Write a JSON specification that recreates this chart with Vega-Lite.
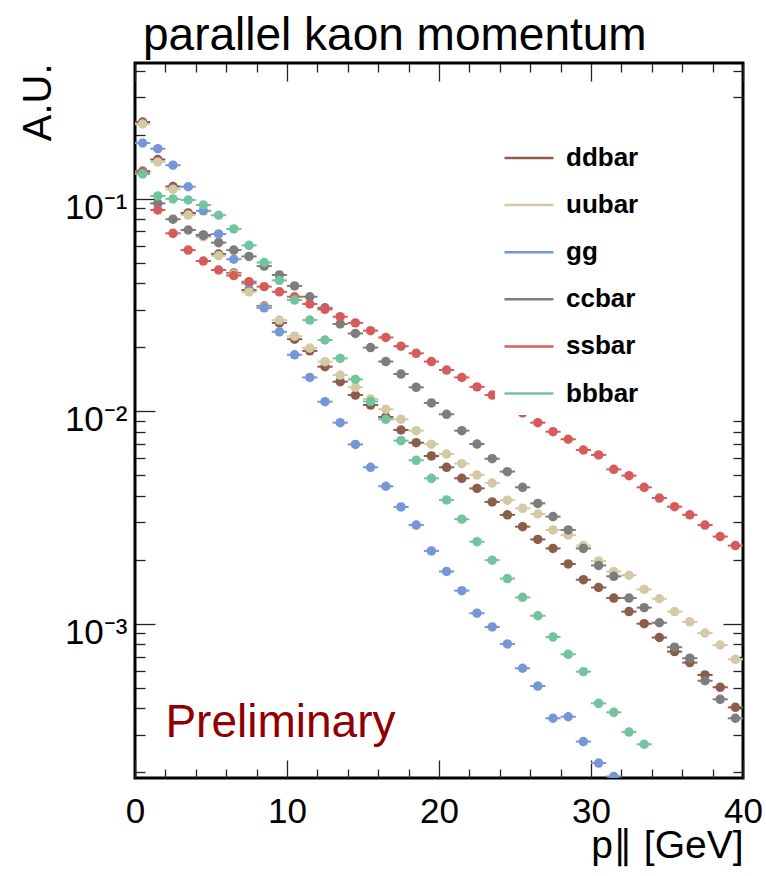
{
"$schema": "https://vega.github.io/schema/vega-lite/v6.json",
"width": 608, "height": 715,
"autosize": {"type": "none"},
"padding": {"left": 135, "top": 63, "right": 23, "bottom": 98},
"background": "white",
"config": {
  "view": {"stroke": "black", "strokeWidth": 3},
  "font": "Liberation Sans",
  "axis": {"grid": false, "domain": false, "tickColor": "#222222", "tickWidth": 1.3, "labelFont": "Liberation Sans", "titleFont": "Liberation Sans", "labelColor": "black", "titleColor": "black", "titleFontWeight": "normal", "labelOverlap": false, "labelFlush": false, "labelBound": false, "zindex": 1}
},
"title": {"text": "parallel kaon momentum", "anchor": "start", "frame": "group", "offset": 13, "dy": 47, "baseline": "alphabetic", "dx": 8, "fontSize": 46, "font": "Liberation Sans", "fontWeight": "normal", "color": "black"},
"data": {"values": [
{"s":"ddbar","lo":0,"hi":1,"c":0.5,"v":0.229},{"s":"ddbar","lo":1,"hi":2,"c":1.5,"v":0.1526},{"s":"ddbar","lo":2,"hi":3,"c":2.5,"v":0.1139},{"s":"ddbar","lo":3,"hi":4,"c":3.5,"v":0.0855},{"s":"ddbar","lo":4,"hi":5,"c":4.5,"v":0.0674},{"s":"ddbar","lo":5,"hi":6,"c":5.5,"v":0.0548},{"s":"ddbar","lo":6,"hi":7,"c":6.5,"v":0.0446},{"s":"ddbar","lo":7,"hi":8,"c":7.5,"v":0.0371},{"s":"ddbar","lo":8,"hi":9,"c":8.5,"v":0.0312},{"s":"ddbar","lo":9,"hi":10,"c":9.5,"v":0.026},
{"s":"ddbar","lo":10,"hi":11,"c":10.5,"v":0.0218},{"s":"ddbar","lo":11,"hi":12,"c":11.5,"v":0.0192},{"s":"ddbar","lo":12,"hi":13,"c":12.5,"v":0.01617},{"s":"ddbar","lo":13,"hi":14,"c":13.5,"v":0.01375},{"s":"ddbar","lo":14,"hi":15,"c":14.5,"v":0.0119},{"s":"ddbar","lo":15,"hi":16,"c":15.5,"v":0.01068},{"s":"ddbar","lo":16,"hi":17,"c":16.5,"v":0.00938},{"s":"ddbar","lo":17,"hi":18,"c":17.5,"v":0.00815},{"s":"ddbar","lo":18,"hi":19,"c":18.5,"v":0.0071},{"s":"ddbar","lo":19,"hi":20,"c":19.5,"v":0.00615},
{"s":"ddbar","lo":20,"hi":21,"c":20.5,"v":0.00544},{"s":"ddbar","lo":21,"hi":22,"c":21.5,"v":0.00483},{"s":"ddbar","lo":22,"hi":23,"c":22.5,"v":0.00433},{"s":"ddbar","lo":23,"hi":24,"c":23.5,"v":0.00374},{"s":"ddbar","lo":24,"hi":25,"c":24.5,"v":0.00325},{"s":"ddbar","lo":25,"hi":26,"c":25.5,"v":0.00286},{"s":"ddbar","lo":26,"hi":27,"c":26.5,"v":0.00249},{"s":"ddbar","lo":27,"hi":28,"c":27.5,"v":0.00226},{"s":"ddbar","lo":28,"hi":29,"c":28.5,"v":0.00191},{"s":"ddbar","lo":29,"hi":30,"c":29.5,"v":0.00161},
{"s":"ddbar","lo":30,"hi":31,"c":30.5,"v":0.00148},{"s":"ddbar","lo":31,"hi":32,"c":31.5,"v":0.00132},{"s":"ddbar","lo":32,"hi":33,"c":32.5,"v":0.00114},{"s":"ddbar","lo":33,"hi":34,"c":33.5,"v":0.001},{"s":"ddbar","lo":34,"hi":35,"c":34.5,"v":0.000861},{"s":"ddbar","lo":35,"hi":36,"c":35.5,"v":0.000739},{"s":"ddbar","lo":36,"hi":37,"c":36.5,"v":0.000656},{"s":"ddbar","lo":37,"hi":38,"c":37.5,"v":0.000574},{"s":"ddbar","lo":38,"hi":39,"c":38.5,"v":0.000502},{"s":"ddbar","lo":39,"hi":40,"c":39.5,"v":0.000404},
{"s":"uubar","lo":0,"hi":1,"c":0.5,"v":0.2241},{"s":"uubar","lo":1,"hi":2,"c":1.5,"v":0.1485},{"s":"uubar","lo":2,"hi":3,"c":2.5,"v":0.1105},{"s":"uubar","lo":3,"hi":4,"c":3.5,"v":0.0836},{"s":"uubar","lo":4,"hi":5,"c":4.5,"v":0.0659},{"s":"uubar","lo":5,"hi":6,"c":5.5,"v":0.0538},{"s":"uubar","lo":6,"hi":7,"c":6.5,"v":0.0441},{"s":"uubar","lo":7,"hi":8,"c":7.5,"v":0.0364},{"s":"uubar","lo":8,"hi":9,"c":8.5,"v":0.0309},{"s":"uubar","lo":9,"hi":10,"c":9.5,"v":0.0268},
{"s":"uubar","lo":10,"hi":11,"c":10.5,"v":0.0225},{"s":"uubar","lo":11,"hi":12,"c":11.5,"v":0.0198},{"s":"uubar","lo":12,"hi":13,"c":12.5,"v":0.01707},{"s":"uubar","lo":13,"hi":14,"c":13.5,"v":0.01478},{"s":"uubar","lo":14,"hi":15,"c":14.5,"v":0.01294},{"s":"uubar","lo":15,"hi":16,"c":15.5,"v":0.0114},{"s":"uubar","lo":16,"hi":17,"c":16.5,"v":0.0102},{"s":"uubar","lo":17,"hi":18,"c":17.5,"v":0.00915},{"s":"uubar","lo":18,"hi":19,"c":18.5,"v":0.00809},{"s":"uubar","lo":19,"hi":20,"c":19.5,"v":0.00699},
{"s":"uubar","lo":20,"hi":21,"c":20.5,"v":0.00628},{"s":"uubar","lo":21,"hi":22,"c":21.5,"v":0.00566},{"s":"uubar","lo":22,"hi":23,"c":22.5,"v":0.00501},{"s":"uubar","lo":23,"hi":24,"c":23.5,"v":0.00459},{"s":"uubar","lo":24,"hi":25,"c":24.5,"v":0.00381},{"s":"uubar","lo":25,"hi":26,"c":25.5,"v":0.00349},{"s":"uubar","lo":26,"hi":27,"c":26.5,"v":0.00328},{"s":"uubar","lo":27,"hi":28,"c":27.5,"v":0.00276},{"s":"uubar","lo":28,"hi":29,"c":28.5,"v":0.00261},{"s":"uubar","lo":29,"hi":30,"c":29.5,"v":0.00233},
{"s":"uubar","lo":30,"hi":31,"c":30.5,"v":0.00197},{"s":"uubar","lo":31,"hi":32,"c":31.5,"v":0.00176},{"s":"uubar","lo":32,"hi":33,"c":32.5,"v":0.00169},{"s":"uubar","lo":33,"hi":34,"c":33.5,"v":0.00145},{"s":"uubar","lo":34,"hi":35,"c":34.5,"v":0.00131},{"s":"uubar","lo":35,"hi":36,"c":35.5,"v":0.00114},{"s":"uubar","lo":36,"hi":37,"c":36.5,"v":0.00102},{"s":"uubar","lo":37,"hi":38,"c":37.5,"v":0.000904},{"s":"uubar","lo":38,"hi":39,"c":38.5,"v":0.000794},{"s":"uubar","lo":39,"hi":40,"c":39.5,"v":0.00068},
{"s":"gg","lo":0,"hi":1,"c":0.5,"v":0.1824},{"s":"gg","lo":1,"hi":2,"c":1.5,"v":0.1715},{"s":"gg","lo":2,"hi":3,"c":2.5,"v":0.1434},{"s":"gg","lo":3,"hi":4,"c":3.5,"v":0.1136},{"s":"gg","lo":4,"hi":5,"c":4.5,"v":0.0875},{"s":"gg","lo":5,"hi":6,"c":5.5,"v":0.0681},{"s":"gg","lo":6,"hi":7,"c":6.5,"v":0.0518},{"s":"gg","lo":7,"hi":8,"c":7.5,"v":0.0399},{"s":"gg","lo":8,"hi":9,"c":8.5,"v":0.0306},{"s":"gg","lo":9,"hi":10,"c":9.5,"v":0.0236},
{"s":"gg","lo":10,"hi":11,"c":10.5,"v":0.0184},{"s":"gg","lo":11,"hi":12,"c":11.5,"v":0.0144},{"s":"gg","lo":12,"hi":13,"c":12.5,"v":0.01107},{"s":"gg","lo":13,"hi":14,"c":13.5,"v":0.00882},{"s":"gg","lo":14,"hi":15,"c":14.5,"v":0.00697},{"s":"gg","lo":15,"hi":16,"c":15.5,"v":0.00544},{"s":"gg","lo":16,"hi":17,"c":16.5,"v":0.00443},{"s":"gg","lo":17,"hi":18,"c":17.5,"v":0.00354},{"s":"gg","lo":18,"hi":19,"c":18.5,"v":0.00291},{"s":"gg","lo":19,"hi":20,"c":19.5,"v":0.0022},
{"s":"gg","lo":20,"hi":21,"c":20.5,"v":0.00176},{"s":"gg","lo":21,"hi":22,"c":21.5,"v":0.00143},{"s":"gg","lo":22,"hi":23,"c":22.5,"v":0.00112},{"s":"gg","lo":23,"hi":24,"c":23.5,"v":0.000965},{"s":"gg","lo":24,"hi":25,"c":24.5,"v":0.000803},{"s":"gg","lo":25,"hi":26,"c":25.5,"v":0.000617},{"s":"gg","lo":26,"hi":27,"c":26.5,"v":0.000509},{"s":"gg","lo":27,"hi":28,"c":27.5,"v":0.000359},{"s":"gg","lo":28,"hi":29,"c":28.5,"v":0.000365},{"s":"gg","lo":29,"hi":30,"c":29.5,"v":0.000279},
{"s":"gg","lo":30,"hi":31,"c":30.5,"v":0.000221},{"s":"gg","lo":31,"hi":32,"c":31.5,"v":0.000191},
{"s":"ccbar","lo":0,"hi":1,"c":0.5,"v":0.1347},{"s":"ccbar","lo":1,"hi":2,"c":1.5,"v":0.0949},{"s":"ccbar","lo":2,"hi":3,"c":2.5,"v":0.0799},{"s":"ccbar","lo":3,"hi":4,"c":3.5,"v":0.0711},{"s":"ccbar","lo":4,"hi":5,"c":4.5,"v":0.067},{"s":"ccbar","lo":5,"hi":6,"c":5.5,"v":0.062},{"s":"ccbar","lo":6,"hi":7,"c":6.5,"v":0.0572},{"s":"ccbar","lo":7,"hi":8,"c":7.5,"v":0.0534},{"s":"ccbar","lo":8,"hi":9,"c":8.5,"v":0.0481},{"s":"ccbar","lo":9,"hi":10,"c":9.5,"v":0.0437},
{"s":"ccbar","lo":10,"hi":11,"c":10.5,"v":0.0388},{"s":"ccbar","lo":11,"hi":12,"c":11.5,"v":0.0345},{"s":"ccbar","lo":12,"hi":13,"c":12.5,"v":0.0306},{"s":"ccbar","lo":13,"hi":14,"c":13.5,"v":0.0257},{"s":"ccbar","lo":14,"hi":15,"c":14.5,"v":0.0232},{"s":"ccbar","lo":15,"hi":16,"c":15.5,"v":0.0199},{"s":"ccbar","lo":16,"hi":17,"c":16.5,"v":0.0171},{"s":"ccbar","lo":17,"hi":18,"c":17.5,"v":0.01494},{"s":"ccbar","lo":18,"hi":19,"c":18.5,"v":0.01294},{"s":"ccbar","lo":19,"hi":20,"c":19.5,"v":0.01092},
{"s":"ccbar","lo":20,"hi":21,"c":20.5,"v":0.00966},{"s":"ccbar","lo":21,"hi":22,"c":21.5,"v":0.00809},{"s":"ccbar","lo":22,"hi":23,"c":22.5,"v":0.007},{"s":"ccbar","lo":23,"hi":24,"c":23.5,"v":0.00597},{"s":"ccbar","lo":24,"hi":25,"c":24.5,"v":0.00519},{"s":"ccbar","lo":25,"hi":26,"c":25.5,"v":0.00438},{"s":"ccbar","lo":26,"hi":27,"c":26.5,"v":0.00368},{"s":"ccbar","lo":27,"hi":28,"c":27.5,"v":0.00319},{"s":"ccbar","lo":28,"hi":29,"c":28.5,"v":0.00276},{"s":"ccbar","lo":29,"hi":30,"c":29.5,"v":0.00226},
{"s":"ccbar","lo":30,"hi":31,"c":30.5,"v":0.00188},{"s":"ccbar","lo":31,"hi":32,"c":31.5,"v":0.00167},{"s":"ccbar","lo":32,"hi":33,"c":32.5,"v":0.00132},{"s":"ccbar","lo":33,"hi":34,"c":33.5,"v":0.00119},{"s":"ccbar","lo":34,"hi":35,"c":34.5,"v":0.00101},{"s":"ccbar","lo":35,"hi":36,"c":35.5,"v":0.000775},{"s":"ccbar","lo":36,"hi":37,"c":36.5,"v":0.000688},{"s":"ccbar","lo":37,"hi":38,"c":37.5,"v":0.000539},{"s":"ccbar","lo":38,"hi":39,"c":38.5,"v":0.000441},{"s":"ccbar","lo":39,"hi":40,"c":39.5,"v":0.000359},
{"s":"ssbar","lo":0,"hi":1,"c":0.5,"v":0.1332},{"s":"ssbar","lo":1,"hi":2,"c":1.5,"v":0.0883},{"s":"ssbar","lo":2,"hi":3,"c":2.5,"v":0.0686},{"s":"ssbar","lo":3,"hi":4,"c":3.5,"v":0.0572},{"s":"ssbar","lo":4,"hi":5,"c":4.5,"v":0.0508},{"s":"ssbar","lo":5,"hi":6,"c":5.5,"v":0.0461},{"s":"ssbar","lo":6,"hi":7,"c":6.5,"v":0.0434},{"s":"ssbar","lo":7,"hi":8,"c":7.5,"v":0.0406},{"s":"ssbar","lo":8,"hi":9,"c":8.5,"v":0.0385},{"s":"ssbar","lo":9,"hi":10,"c":9.5,"v":0.0364},
{"s":"ssbar","lo":10,"hi":11,"c":10.5,"v":0.0345},{"s":"ssbar","lo":11,"hi":12,"c":11.5,"v":0.0319},{"s":"ssbar","lo":12,"hi":13,"c":12.5,"v":0.0301},{"s":"ssbar","lo":13,"hi":14,"c":13.5,"v":0.0278},{"s":"ssbar","lo":14,"hi":15,"c":14.5,"v":0.026},{"s":"ssbar","lo":15,"hi":16,"c":15.5,"v":0.0239},{"s":"ssbar","lo":16,"hi":17,"c":16.5,"v":0.0222},{"s":"ssbar","lo":17,"hi":18,"c":17.5,"v":0.0202},{"s":"ssbar","lo":18,"hi":19,"c":18.5,"v":0.0187},{"s":"ssbar","lo":19,"hi":20,"c":19.5,"v":0.0171},
{"s":"ssbar","lo":20,"hi":21,"c":20.5,"v":0.0156},{"s":"ssbar","lo":21,"hi":22,"c":21.5,"v":0.0144},{"s":"ssbar","lo":22,"hi":23,"c":22.5,"v":0.013},{"s":"ssbar","lo":23,"hi":24,"c":23.5,"v":0.0119},{"s":"ssbar","lo":24,"hi":25,"c":24.5,"v":0.0108},{"s":"ssbar","lo":25,"hi":26,"c":25.5,"v":0.0098},{"s":"ssbar","lo":26,"hi":27,"c":26.5,"v":0.00882},{"s":"ssbar","lo":27,"hi":28,"c":27.5,"v":0.008},{"s":"ssbar","lo":28,"hi":29,"c":28.5,"v":0.00737},{"s":"ssbar","lo":29,"hi":30,"c":29.5,"v":0.00656},
{"s":"ssbar","lo":30,"hi":31,"c":30.5,"v":0.00622},{"s":"ssbar","lo":31,"hi":32,"c":31.5,"v":0.00532},{"s":"ssbar","lo":32,"hi":33,"c":32.5,"v":0.00497},{"s":"ssbar","lo":33,"hi":34,"c":33.5,"v":0.00438},{"s":"ssbar","lo":34,"hi":35,"c":34.5,"v":0.0039},{"s":"ssbar","lo":35,"hi":36,"c":35.5,"v":0.00355},{"s":"ssbar","lo":36,"hi":37,"c":36.5,"v":0.00325},{"s":"ssbar","lo":37,"hi":38,"c":37.5,"v":0.00291},{"s":"ssbar","lo":38,"hi":39,"c":38.5,"v":0.00257},{"s":"ssbar","lo":39,"hi":40,"c":39.5,"v":0.00233},
{"s":"bbbar","lo":0,"hi":1,"c":0.5,"v":0.1304},{"s":"bbbar","lo":1,"hi":2,"c":1.5,"v":0.1028},{"s":"bbbar","lo":2,"hi":3,"c":2.5,"v":0.0995},{"s":"bbbar","lo":3,"hi":4,"c":3.5,"v":0.0984},{"s":"bbbar","lo":4,"hi":5,"c":4.5,"v":0.0932},{"s":"bbbar","lo":5,"hi":6,"c":5.5,"v":0.0834},{"s":"bbbar","lo":6,"hi":7,"c":6.5,"v":0.0719},{"s":"bbbar","lo":7,"hi":8,"c":7.5,"v":0.0602},{"s":"bbbar","lo":8,"hi":9,"c":8.5,"v":0.05},{"s":"bbbar","lo":9,"hi":10,"c":9.5,"v":0.0412},
{"s":"bbbar","lo":10,"hi":11,"c":10.5,"v":0.0333},{"s":"bbbar","lo":11,"hi":12,"c":11.5,"v":0.0268},{"s":"bbbar","lo":12,"hi":13,"c":12.5,"v":0.0216},{"s":"bbbar","lo":13,"hi":14,"c":13.5,"v":0.0177},{"s":"bbbar","lo":14,"hi":15,"c":14.5,"v":0.0141},{"s":"bbbar","lo":15,"hi":16,"c":15.5,"v":0.0111},{"s":"bbbar","lo":16,"hi":17,"c":16.5,"v":0.00915},{"s":"bbbar","lo":17,"hi":18,"c":17.5,"v":0.00726},{"s":"bbbar","lo":18,"hi":19,"c":18.5,"v":0.00587},{"s":"bbbar","lo":19,"hi":20,"c":19.5,"v":0.00483},
{"s":"bbbar","lo":20,"hi":21,"c":20.5,"v":0.00382},{"s":"bbbar","lo":21,"hi":22,"c":21.5,"v":0.0031},{"s":"bbbar","lo":22,"hi":23,"c":22.5,"v":0.00243},{"s":"bbbar","lo":23,"hi":24,"c":23.5,"v":0.00199},{"s":"bbbar","lo":24,"hi":25,"c":24.5,"v":0.00163},{"s":"bbbar","lo":25,"hi":26,"c":25.5,"v":0.00133},{"s":"bbbar","lo":26,"hi":27,"c":26.5,"v":0.00109},{"s":"bbbar","lo":27,"hi":28,"c":27.5,"v":0.000866},{"s":"bbbar","lo":28,"hi":29,"c":28.5,"v":0.000718},{"s":"bbbar","lo":29,"hi":30,"c":29.5,"v":0.000595},
{"s":"bbbar","lo":30,"hi":31,"c":30.5,"v":0.000422},{"s":"bbbar","lo":31,"hi":32,"c":31.5,"v":0.000383},{"s":"bbbar","lo":32,"hi":33,"c":32.5,"v":0.000309},{"s":"bbbar","lo":33,"hi":34,"c":33.5,"v":0.000271}
]},
"layer": [
  {"mark": {"type": "rule", "strokeWidth": 2, "clip": true},
   "encoding": {
     "x": {"field": "lo", "type": "quantitative", "scale": {"domain": [0, 40], "nice": false, "zero": false},
       "axis": {"orient": "bottom", "values": [0,2,4,6,8,10,12,14,16,18,20,22,24,26,28,30,32,34,36,38,40],
         "tickSize": {"condition": {"test": "datum.value % 10 === 0", "value": -18}, "value": -9},
         "labelExpr": "datum.value % 10 === 0 ? datum.label : ''", "labelFontSize": 35, "labelPadding": 62, "labelBaseline": "alphabetic",
         "title": "p∥ [GeV]", "titleFontSize": 39, "titleX": 608, "titleY": 79, "titleAlign": "right", "titleBaseline": "alphabetic", "titleAnchor": "end"}},
     "x2": {"field": "hi"},
     "y": {"field": "v", "type": "quantitative", "scale": {"type": "log", "domain": [0.00018799, 0.4339], "nice": false},
       "axis": {"orient": "left", "values": [0.0002,0.0003,0.0004,0.0005,0.0006,0.0007,0.0008,0.0009,0.001,0.002,0.003,0.004,0.005,0.006,0.007,0.008,0.009,0.01,0.02,0.03,0.04,0.05,0.06,0.07,0.08,0.09,0.1,0.2,0.3,0.4],
         "tickSize": {"condition": {"test": "datum.value == 0.1 || datum.value == 0.01 || datum.value == 0.001", "value": -20}, "value": -10},
         "labelExpr": "datum.value == 0.1 ? '10⁻¹' : datum.value == 0.01 ? '10⁻²' : datum.value == 0.001 ? '10⁻³' : ''",
         "labelFontSize": 35, "labelPadding": 28, "labelBaseline": "middle", "labelAlign": "right", "labelOffset": 8.5,
         "title": "A.U.", "titleFontSize": 40, "titleX": -85, "titleY": 0, "titleAlign": "right", "titleAngle": 270, "titleBaseline": "alphabetic", "titleAnchor": "end"}},
     "color": {"field": "s", "type": "nominal",
       "scale": {"domain": ["ddbar", "uubar", "gg", "ccbar", "ssbar", "bbbar"], "range": ["#8c5d4d", "#d3c9a6", "#7796d8", "#7d7d7d", "#d65c5c", "#72c49c"]},
       "legend": {"title": null, "orient": "none", "legendX": 360, "legendY": 61, "fillColor": "white", "padding": 8,
         "symbolType": "stroke", "symbolSize": 2401, "symbolStrokeWidth": 2.5, "symbolOpacity": 1,
         "labelFont": "Liberation Sans", "labelFontWeight": "bold", "labelFontSize": 26, "labelColor": "black", "labelOffset": 11,
         "rowPadding": 8.1, "zindex": 2}}
   }},
  {"mark": {"type": "point", "filled": true, "shape": "circle", "size": 90, "opacity": 1, "clip": true},
   "encoding": {
     "x": {"field": "c", "type": "quantitative",
       "axis": {"orient": "top", "values": [0,2,4,6,8,10,12,14,16,18,20,22,24,26,28,30,32,34,36,38,40],
         "tickSize": {"condition": {"test": "datum.value % 10 === 0", "value": -18}, "value": -9},
         "labels": false, "title": null}},
     "y": {"field": "v", "type": "quantitative",
       "axis": {"orient": "right", "values": [0.0002,0.0003,0.0004,0.0005,0.0006,0.0007,0.0008,0.0009,0.001,0.002,0.003,0.004,0.005,0.006,0.007,0.008,0.009,0.3,0.4],
         "tickSize": {"condition": {"test": "datum.value == 0.001", "value": -20}, "value": -10},
         "labels": false, "title": null}},
     "color": {"field": "s", "type": "nominal", "legend": null}
   }},
  {"data": {"values": [{"label": "Preliminary"}]},
   "mark": {"type": "text", "align": "left", "baseline": "alphabetic", "fontSize": 46, "font": "Liberation Sans", "color": "#900000"},
   "encoding": {
     "text": {"field": "label", "type": "nominal"},
     "x": {"datum": 2, "type": "quantitative", "axis": null},
     "y": {"datum": 0.000293, "type": "quantitative", "axis": null}
   }}
],
"resolve": {"axis": {"x": "independent", "y": "independent"}}
}
